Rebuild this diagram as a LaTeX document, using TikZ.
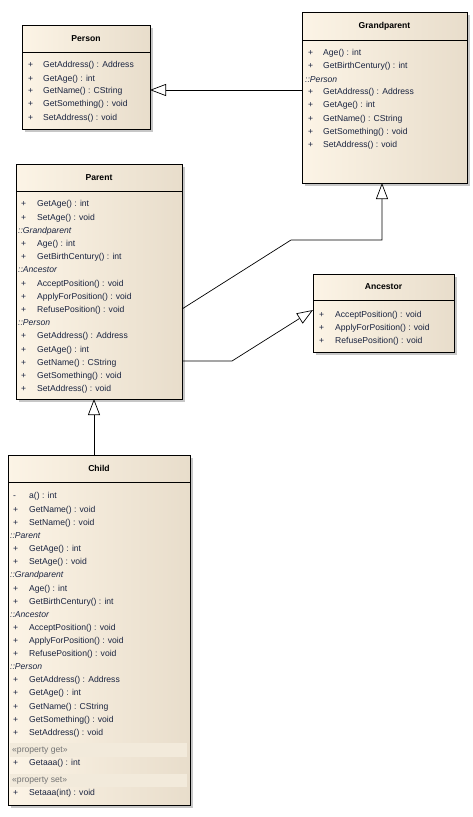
\documentclass[tikz,border=0pt]{standalone}
\usepackage{fontspec}
\setmainfont{Liberation Sans}
\usetikzlibrary{arrows.meta,shadows}
\definecolor{cl}{HTML}{FCF4E6}
\definecolor{cr}{HTML}{E8DDCB}
\definecolor{tx}{HTML}{1A2440}
\definecolor{band}{HTML}{F2EADB}
\newcommand\umlbox[7]{%
  \node[box, minimum width={#4-#2}, minimum height={#5-#3}] (#1) at ({(#2+#4)/2},{(#3+#5)/2}) {};
  \draw[line width=0.7pt] (#1.west |- 0,#6) -- (#1.east |- 0,#6);
  \node[ttl] (#1-t) at ({(#2+#4)/2},{(#3+#6)/2}) {#7};}
\begin{document}
\begin{tikzpicture}[x=1pt,y=-1pt,
  box/.style={draw=black, line width=0.8pt, left color=cl, right color=cr, inner sep=0, outer sep=0,
    drop shadow={shadow xshift=3pt, shadow yshift=-3pt, fill=black!22, opacity=1}},
  txt/.style={font=\fontsize{8.6}{9}\selectfont, inner sep=0, text height=6pt, text depth=2pt, anchor=west, text=tx},
  ital/.style={txt, font=\fontsize{8.6}{9}\selectfont\itshape},
  ttl/.style={font=\fontsize{8.6}{9}\selectfont\bfseries, inner sep=0},
  inh/.style={line width=0.7pt, -{Triangle[open, length=16pt, width=12pt, fill=white]}}]
\useasboundingbox (0,0) rectangle (472,817);
\fill[white] (0,0) rectangle (472,817);
% Person
\umlbox{person}{22}{25}{150}{129}{52}{Person}
\foreach \yy/\mm [count=\i] in {65/GetAddress() : Address, 79/GetAge() : int, 91/GetName() : CString, 104/GetSomething() : void, 118/SetAddress() : void}{
  \node[txt] (pp\i) at (28,\yy) {+}; \node[txt] (pm\i) at (43,\yy) {\mm};}
% Grandparent
\umlbox{grand}{302}{12}{467}{183}{40}{Grandparent}
\foreach \yy/\mm [count=\i] in {53/Age() : int, 66/GetBirthCentury() : int, 92/GetAddress() : Address, 105/GetAge() : int, 119/GetName() : CString, 132/GetSomething() : void, 145/SetAddress() : void}{
  \node[txt] (gp\i) at (308,\yy) {+}; \node[txt] (gm\i) at (323,\yy) {\mm};}
\node[ital] (gi1) at (305,80) {::Person};
% Parent
\umlbox{parent}{16}{164}{182}{399}{191}{Parent}
\foreach \yy/\mm [count=\i] in {204/GetAge() : int, 218/SetAge() : void, 244/Age() : int, 257/GetBirthCentury() : int, 284/AcceptPosition() : void, 297/ApplyForPosition() : void, 310/RefusePosition() : void, 336/GetAddress() : Address, 350/GetAge() : int, 363/GetName() : CString, 376/GetSomething() : void, 389/SetAddress() : void}{
  \node[txt] (ap\i) at (21,\yy) {+}; \node[txt] (am\i) at (37,\yy) {\mm};}
\node[ital] (ai1) at (18,231) {::Grandparent};
\node[ital] (ai2) at (18,270) {::Ancestor};
\node[ital] (ai3) at (18,323) {::Person};
% Ancestor
\umlbox{anc}{313}{274}{454}{352}{300}{Ancestor}
\foreach \yy/\mm [count=\i] in {315/AcceptPosition() : void, 328/ApplyForPosition() : void, 341/RefusePosition() : void}{
  \node[txt] (np\i) at (319,\yy) {+}; \node[txt] (nm\i) at (335,\yy) {\mm};}
% Child
\umlbox{child}{8}{455}{190}{805}{482}{Child}
\fill[band] (10,743) rectangle (187,757);
\fill[band] (10,774) rectangle (187,787);
\node[txt] (cp0) at (13,496) {-}; \node[txt] (cm0) at (29,496) {a() : int};
\foreach \yy/\mm [count=\i] in {510/GetName() : void, 523/SetName() : void, 549/GetAge() : int, 562/SetAge() : void, 589/Age() : int, 602/GetBirthCentury() : int, 628/AcceptPosition() : void, 641/ApplyForPosition() : void, 654/RefusePosition() : void, 680/GetAddress() : Address, 693/GetAge() : int, 707/GetName() : CString, 720/GetSomething() : void, 733/SetAddress() : void, 763/Getaaa() : int, 793/Setaaa(int) : void}{
  \node[txt] (cp\i) at (13,\yy) {+}; \node[txt] (cm\i) at (29,\yy) {\mm};}
\node[ital] (ci1) at (10,536) {::Parent};
\node[ital] (ci2) at (10,575) {::Grandparent};
\node[ital] (ci3) at (10,615) {::Ancestor};
\node[ital] (ci4) at (10,667) {::Person};
\node[txt, text=black!55] (cs1) at (12,750) {«property get»};
\node[txt, text=black!55] (cs2) at (12,780) {«property set»};
% connectors
\draw[inh] (grand.west |- 0,90) -- (person.east |- 0,90);
\coordinate (b1) at (291,240);
\coordinate (b2) at (382,240);
\draw[inh] (parent.east |- 0,309) -- (b1) -- (b2) -- (grand.south -| b2);
\coordinate (b3) at (232,361);
\draw[inh] (parent.east |- b3) -- (b3) -- (anc.west |- 0,310);
\draw[inh] (child.north -| 94,0) -- (parent.south -| 94,0);
\end{tikzpicture}
\end{document}
